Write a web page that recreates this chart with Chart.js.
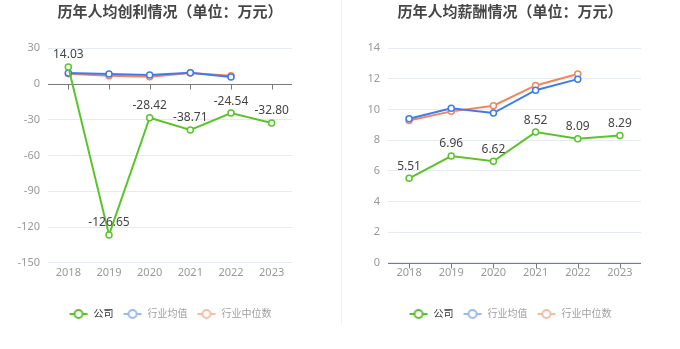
<!DOCTYPE html>
<html>
<head>
<meta charset="utf-8">
<script src="https://cdn.jsdelivr.net/npm/chart.js@4.4.0/dist/chart.umd.min.js"></script>
<style>
  html, body { margin: 0; padding: 0; background: #fff; }
  #wrap { position: relative; width: 680px; height: 349px; }
  .box { position: absolute; top: 0; width: 340px; height: 349px; }
  #divider { position: absolute; left: 341px; top: 0; width: 1px; height: 325px; background: #f0f0f0; }
</style>
</head>
<body>
<div id="wrap">
  <div class="box" style="left:0"><canvas id="profitChart" width="340" height="349"></canvas></div>
  <div id="divider"></div>
  <div class="box" style="left:340px"><canvas id="salaryChart" width="340" height="349"></canvas></div>
</div>
<script>
const years = ['2018', '2019', '2020', '2021', '2022', '2023'];

// 人均创利
const profitCompany = [14.03, -126.65, -28.42, -38.71, -24.54, -32.80];
const profitMean = [9.0, 8.2, 7.4, 9.3, 5.7, null];
const profitMedian = [8.5, 6.8, 5.9, 9.0, 6.8, null];
const profitTicks = [-150, -120, -90, -60, -30, 0, 30];

// 人均薪酬
const salaryCompany = [5.51, 6.96, 6.62, 8.52, 8.09, 8.29];
const salaryMean = [9.39, 10.07, 9.76, 11.25, 11.97, null];
const salaryMedian = [9.28, 9.87, 10.24, 11.56, 12.30, null];
const salaryTicks = [0, 2, 4, 6, 8, 10, 12, 14];

const seriesNames = ['公司', '行业均值', '行业中位数'];
const lineColors = ['#5bc42b', '#3d7cf0', '#f6845a'];
const legendIconColors = ['#5bc42b', '#9ab8f6', '#f9bba3'];
const legendTextColors = ['#333333', '#a0a0a0', '#a0a0a0'];

const FONT = "'Noto Sans', 'Noto Sans CJK SC', sans-serif";

function legendIcon(color) {
  const c = document.createElement('canvas');
  c.width = 20; c.height = 12;
  const g = c.getContext('2d');
  g.strokeStyle = color;
  g.lineWidth = 2;
  g.beginPath(); g.moveTo(1, 6); g.lineTo(19, 6); g.stroke();
  g.fillStyle = '#fff';
  g.beginPath(); g.arc(10, 6, 4, 0, Math.PI * 2); g.fill(); g.stroke();
  return c;
}
const icons = legendIconColors.map(legendIcon);

// labels above the company points
const valueLabels = {
  id: 'valueLabels',
  afterDatasetsDraw(chart) {
    const ctx = chart.ctx;
    const meta = chart.getDatasetMeta(0);
    const data = chart.data.datasets[0].data;
    ctx.save();
    ctx.font = '12px ' + FONT;
    ctx.fillStyle = '#444';
    ctx.textAlign = 'center';
    ctx.textBaseline = 'bottom';
    meta.data.forEach((pt, i) => {
      ctx.fillText(data[i].toFixed(2), pt.x, pt.y - 6);
    });
    ctx.restore();
  }
};

// x axis line sits at value 0 with ticks under each category
const zeroAxis = {
  id: 'zeroAxis',
  beforeDatasetsDraw(chart) {
    const ctx = chart.ctx;
    const area = chart.chartArea;
    const y = Math.round(chart.scales.y.getPixelForValue(0)) + 0.5;
    const x = chart.scales.x;
    ctx.save();
    ctx.strokeStyle = '#7a7a7a';
    ctx.lineWidth = 1;
    ctx.beginPath();
    ctx.moveTo(area.left, y);
    ctx.lineTo(area.right, y);
    for (let i = 0; i < years.length; i++) {
      const px = Math.round(x.getPixelForValue(i)) + 0.5;
      ctx.moveTo(px, y);
      ctx.lineTo(px, y + 5);
    }
    ctx.stroke();
    ctx.restore();
  }
};

function makeDataset(idx, values) {
  return {
    label: seriesNames[idx],
    data: values,
    borderColor: lineColors[idx],
    backgroundColor: '#fff',
    borderWidth: 2,
    pointRadius: 3,
    pointBorderWidth: 1.5,
    pointBackgroundColor: '#fff',
    pointBorderColor: lineColors[idx],
    tension: 0,
    spanGaps: false
  };
}

function buildChart(id, title, company, mean, median, ticks, rightPad) {
  const min = ticks[0], max = ticks[ticks.length - 1];
  const step = ticks[1] - ticks[0];
  return new Chart(document.getElementById(id), {
    type: 'line',
    data: {
      labels: years,
      datasets: [makeDataset(0, company), makeDataset(1, mean), makeDataset(2, median)]
    },
    options: {
      responsive: false,
      animation: false,
      layout: { padding: { left: 0, right: 0, top: 0, bottom: 20 } },
      plugins: {
        title: {
          display: true,
          text: title,
          color: '#464646',
          font: { family: FONT, size: 15, weight: 'bold' },
          padding: { top: 4, bottom: 26 }
        },
        legend: {
          position: 'bottom',
          labels: {
            usePointStyle: true,
            pointStyleWidth: 20,
            font: { family: FONT, size: 10 },
            padding: 9,
            generateLabels: () => seriesNames.map((n, i) => ({
              text: n,
              pointStyle: icons[i],
              fontColor: legendTextColors[i],
              strokeStyle: legendIconColors[i],
              fillStyle: '#fff',
              lineWidth: 0,
              hidden: false,
              datasetIndex: i
            }))
          }
        },
        tooltip: { enabled: false }
      },
      scales: {
        x: {
          offset: true,
          afterFit: (s) => { s.height += 18; },
          grid: { display: false, drawTicks: false },
          border: { display: false },
          ticks: { color: '#999', font: { family: FONT, size: 11 }, padding: 3, maxRotation: 0 }
        },
        y: {
          min: min,
          max: max,
          afterFit: (s) => { s.width = 48; },
          afterBuildTicks: (s) => { s.ticks = ticks.map(v => ({ value: v })); },
          grid: {
            drawTicks: false,
            color: (c) => (c.tick && c.tick.value === 0 && min < 0) ? 'rgba(0,0,0,0)' : '#e6eaf3'
          },
          border: { display: false },
          ticks: { stepSize: step, color: '#999', font: { family: FONT, size: 11 }, padding: 8 }
        },
        yRight: {
          position: 'right',
          afterFit: (s) => { s.width = rightPad; },
          grid: { display: false, drawTicks: false },
          border: { display: false },
          ticks: { display: false }
        }
      }
    },
    plugins: [zeroAxis, valueLabels]
  });
}

buildChart('profitChart', '历年人均创利情况（单位：万元）', profitCompany, profitMean, profitMedian, profitTicks, 48);
buildChart('salaryChart', '历年人均薪酬情况（单位：万元）', salaryCompany, salaryMean, salaryMedian, salaryTicks, 39);
</script>
</body>
</html>
